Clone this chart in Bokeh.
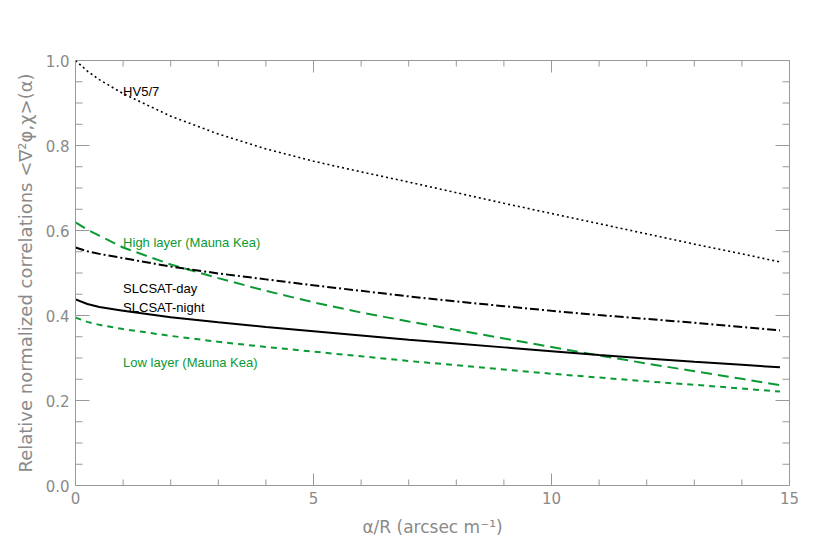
import math
from bokeh.plotting import figure
from bokeh.models import Range1d, FixedTicker, ColumnDataSource
from bokeh.core.properties import value
from bokeh.embed import file_html
from bokeh.resources import INLINE

# ---- data ----
alpha = [0, 0.25, 0.5, 1, 2, 3, 4, 5, 6, 7, 8, 9, 10, 11, 12, 13, 14, 14.8]
hv57 = [1.000, 0.975, 0.955, 0.922, 0.869, 0.827, 0.792, 0.763, 0.738, 0.714,
        0.689, 0.664, 0.640, 0.616, 0.592, 0.568, 0.545, 0.526]
high_layer = [0.619, 0.602, 0.588, 0.560, 0.520, 0.488, 0.458, 0.431, 0.407, 0.386,
              0.366, 0.346, 0.326, 0.306, 0.287, 0.269, 0.251, 0.236]
slcsat_day = [0.560, 0.551, 0.545, 0.535, 0.515, 0.499, 0.485, 0.471, 0.458, 0.445,
              0.433, 0.422, 0.411, 0.401, 0.392, 0.383, 0.373, 0.365]
slcsat_night = [0.438, 0.427, 0.420, 0.411, 0.396, 0.384, 0.373, 0.363, 0.353, 0.343,
                0.334, 0.325, 0.316, 0.307, 0.299, 0.291, 0.284, 0.278]
low_layer = [0.395, 0.385, 0.378, 0.368, 0.352, 0.338, 0.326, 0.315, 0.304, 0.293,
             0.283, 0.273, 0.263, 0.254, 0.245, 0.237, 0.228, 0.221]

X_MIN, X_MAX = 0, 15
Y_MIN, Y_MAX = 0.0, 1.0
x_ticks = [0, 5, 10, 15]
x_minor = [m for m in range(0, 16) if m not in x_ticks]
y_ticks = [0.0, 0.2, 0.4, 0.6, 0.8, 1.0]
y_minor = [round(i * 0.05, 2) for i in range(0, 21) if i % 4 != 0]

label_text = ["HV5/7", "High layer (Mauna Kea)", "SLCSAT-day", "SLCSAT-night", "Low layer (Mauna Kea)"]
label_x = [1.0, 1.0, 1.0, 1.0, 1.0]
label_y = [0.928, 0.572, 0.464, 0.420, 0.289]
label_color = ["black", "#0a9a33", "black", "black", "#0a9a33"]

GREEN = "#0a9a33"
AXIS = "#999999"
LBL = "#8a8a8a"

p = figure(frame_width=714, frame_height=425, output_backend="svg", toolbar_location=None,
           x_range=Range1d(X_MIN, X_MAX), y_range=Range1d(Y_MIN, Y_MAX),
           min_border_left=75, min_border_right=20, min_border_top=60, min_border_bottom=55,
           background_fill_color="white", border_fill_color="white")
p.xgrid.visible = False
p.ygrid.visible = False
p.outline_line_color = AXIS
p.outline_line_width = 1


def style(ax, size, standoff):
    ax.axis_line_color = AXIS
    ax.major_tick_in = 0
    ax.major_tick_out = 0
    ax.minor_tick_in = 0
    ax.minor_tick_out = 0
    ax.major_tick_line_color = None
    ax.minor_tick_line_color = None
    ax.major_label_text_font = "DejaVu Sans"
    ax.major_label_text_font_size = "15px"
    ax.major_label_text_color = LBL
    ax.major_label_standoff = 6
    ax.axis_label_text_font = "DejaVu Sans"
    ax.axis_label_text_font_size = size
    ax.axis_label_text_font_style = "normal"
    ax.axis_label_text_color = LBL
    ax.axis_label_standoff = standoff


xa = p.xaxis[0]
xa.ticker = FixedTicker(ticks=x_ticks)
xa.axis_label = "α/R (arcsec m⁻¹)"
style(xa, "17px", 10)

ya = p.yaxis[0]
ya.ticker = FixedTicker(ticks=y_ticks)
ya.axis_label = "Relative normalized correlations <∇²φ,χ>(α)"
style(ya, "18px", 7)
ya.major_label_overrides = {0.0: "0.0", 0.2: "0.2", 0.4: "0.4", 0.6: "0.6", 0.8: "0.8", 1.0: "1.0"}

# inward tick marks on all four sides (dash markers centred on the frame edge, clipped by it)
for ticks, size in ((y_ticks, 28), (y_minor, 14)):
    for xe in (X_MIN, X_MAX):
        p.scatter(x=[xe] * len(ticks), y=ticks, marker="dash", size=size,
                  line_color=AXIS, line_width=1)
for ticks, size in ((x_ticks, 24), (x_minor, 12)):
    for ye in (Y_MIN, Y_MAX):
        p.scatter(x=ticks, y=[ye] * len(ticks), marker="dash", size=size, angle=math.pi / 2,
                  line_color=AXIS, line_width=1)

src = ColumnDataSource(dict(x=alpha, hv=hv57, hi=high_layer, day=slcsat_day,
                            night=slcsat_night, lo=low_layer))
p.line("x", "hv", source=src, line_color="black", line_width=1.6, line_dash="2 3")
p.line("x", "hi", source=src, line_color=GREEN, line_width=2, line_dash="11 6")
p.line("x", "day", source=src, line_color="black", line_width=2, line_dash="9 3 2 3")
p.line("x", "night", source=src, line_color="black", line_width=2)
p.line("x", "lo", source=src, line_color=GREEN, line_width=2, line_dash="6 5")

lsrc = ColumnDataSource(dict(x=label_x, y=label_y, t=label_text, c=label_color))
p.text(x="x", y="y", text="t", text_color="c", source=lsrc,
       text_font=value("Liberation Sans"), text_font_size="13px",
       text_align="left", text_baseline="alphabetic")

open("out.html", "w").write(file_html(p, INLINE))
